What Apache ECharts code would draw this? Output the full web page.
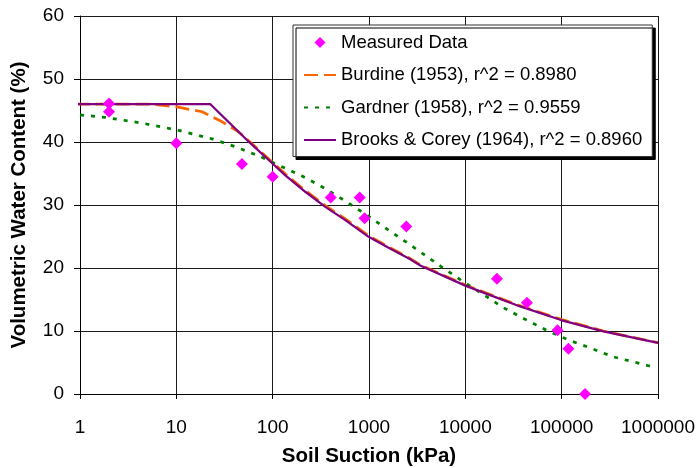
<!DOCTYPE html>
<html>
	<head>
		<meta charset="UTF-8">
		<title>Soil Water Characteristic Curve</title>
		<script type="text/javascript" src="https://cdn.jsdelivr.net/npm/echarts@6/dist/echarts.min.js"></script>
		<style>
			html, body { margin: 0; padding: 0; background: #fff; }
			#swcc { width: 699px; height: 468px; }
		</style>
	</head>
	<body>
		<div id="swcc"></div>
		<script>
		// measured points (suction kPa / water content %)
		var measuredSuction = [2, 2, 10, 48, 100, 400, 800, 900, 2440, 21300, 43600, 90600, 117600, 175000];
		var measuredWater = [46.1, 44.8, 39.8, 36.5, 34.5, 31.2, 31.2, 27.9, 26.6, 18.3, 14.5, 10.1, 7.2, 0];

		// fitted curves
		var burdineSuction = [0.9, 5.6, 9.8, 18.5, 29.9, 44.4, 66, 107, 135.5, 218, 352, 568, 991, 1597, 2680, 3405, 9980, 16700, 37100, 100500, 271000, 1000000];
		var burdineWater = [46, 46, 45.6, 44.8, 43.2, 41.6, 39.25, 36.35, 34.9, 32.3, 29.9, 27.8, 25.1, 23.35, 21.5, 20.5, 17.3, 16.0, 14.0, 11.8, 10.0, 8.15];

		var gardnerSuction = [1, 1.84, 4.4, 10.2, 23.5, 41, 71.6, 120, 202, 338, 545, 866, 1418, 2286, 3680, 5940, 9560, 15400, 24900, 41800, 69000, 117600, 156000, 344000, 815000, 900000];
		var gardnerWater = [44.3, 43.9, 43.0, 41.9, 40.5, 39.25, 37.8, 36.2, 34.6, 32.75, 30.8, 28.8, 26.55, 24.4, 22.2, 19.95, 17.8, 15.8, 13.7, 11.85, 10.15, 8.57, 7.9, 5.9, 4.45, 4.3];

		var brooksSuction = [0.9, 22.6, 56.4, 94.6, 135.5, 218, 352, 568, 991, 1597, 2680, 3405, 9980, 16700, 37100, 100500, 271000, 1000000];
		var brooksWater = [46, 46, 40.05, 36.9, 34.7, 32.1, 29.7, 27.6, 24.95, 23.2, 21.4, 20.4, 17.2, 15.9, 13.9, 11.7, 9.95, 8.1];

		var seriesNames = ['Measured Data', 'Burdine (1953), r^2 = 0.8980', 'Gardner (1958), r^2 = 0.9559', 'Brooks & Corey (1964), r^2 = 0.8960'];

		function pairs(xs, ys) {
			var out = [];
			for (var i = 0; i < xs.length; i++) {
				out.push([xs[i], ys[i]]);
			}
			return out;
		}

		var fontName = '"Liberation Sans", Arial, sans-serif';
		// hide the little circle echarts puts in the middle of line icons
		var noDot = { color: 'rgba(0,0,0,0)', borderWidth: 0, opacity: 0 };

		var chart = echarts.init(document.getElementById('swcc'));

		var option = {
			animation: false,
			backgroundColor: '#fff',
			textStyle: { fontFamily: fontName },
			grid: { left: 80, right: 41, top: 16, bottom: 74, containLabel: false, outerBoundsMode: 'none' },
			legend: {
				data: [
					{ name: seriesNames[0], icon: 'path://M5,0L10,5L5,10L0,5Z' },
					{ name: seriesNames[1], itemStyle: noDot },
					{ name: seriesNames[2], itemStyle: noDot },
					{ name: seriesNames[3], itemStyle: noDot }
				],
				orient: 'vertical',
				left: 293,
				top: 25,
				padding: [8, 10, 7, 10],
				itemGap: 13.5,
				itemWidth: 32,
				itemHeight: 11,
				symbolKeepAspect: true,
				backgroundColor: '#fff',
				borderColor: '#333',
				borderWidth: 1,
				shadowColor: '#000',
				shadowBlur: 0,
				shadowOffsetX: 3,
				shadowOffsetY: 3,
				textStyle: { fontSize: 18.5, color: '#000', fontFamily: fontName }
			},
			xAxis: {
				type: 'log',
				logBase: 10,
				min: 1,
				max: 1000000,
				name: 'Soil Suction (kPa)',
				nameLocation: 'middle',
				nameGap: 52,
				nameTextStyle: { fontSize: 20.5, fontWeight: 'bold', color: '#000', fontFamily: fontName },
				axisLine: { lineStyle: { color: '#000', width: 1 } },
				axisTick: { show: true, length: 5, lineStyle: { color: '#000' } },
				axisLabel: {
					fontSize: 19,
					color: '#000',
					margin: 24,
					formatter: function (v) { return String(Math.round(v)); }
				},
				splitLine: { show: true, lineStyle: { color: '#1a1a1a', width: 1 } }
			},
			yAxis: {
				type: 'value',
				min: 0,
				max: 60,
				interval: 10,
				name: 'Volumetric Water Content (%)',
				nameLocation: 'middle',
				nameGap: 50,
				nameTextStyle: { fontSize: 20.5, fontWeight: 'bold', color: '#000', fontFamily: fontName },
				axisLine: { show: true, lineStyle: { color: '#000', width: 1 } },
				axisTick: { show: true, length: 6, lineStyle: { color: '#000' } },
				axisLabel: { fontSize: 19, color: '#000', margin: 16 },
				splitLine: { show: true, lineStyle: { color: '#1a1a1a', width: 1 } }
			},
			series: [
				{
					name: seriesNames[1],
					type: 'line',
					symbol: 'none',
					clip: false,
					data: pairs(burdineSuction, burdineWater),
					itemStyle: { color: '#FF6600' },
					lineStyle: { color: '#FF6600', width: 2.75, type: [14, 6] },
					z: 3
				},
				{
					name: seriesNames[2],
					type: 'line',
					symbol: 'none',
					clip: false,
					data: pairs(gardnerSuction, gardnerWater),
					itemStyle: { color: '#008000' },
					lineStyle: { color: '#008000', width: 2.75, type: [4, 7] },
					z: 3
				},
				{
					name: seriesNames[3],
					type: 'line',
					symbol: 'none',
					clip: false,
					data: pairs(brooksSuction, brooksWater),
					itemStyle: { color: '#800080' },
					lineStyle: { color: '#800080', width: 2.25 },
					z: 4
				},
				{
					name: seriesNames[0],
					type: 'scatter',
					symbol: 'diamond',
					symbolSize: 12,
					clip: false,
					data: pairs(measuredSuction, measuredWater),
					itemStyle: { color: '#FF00FF', opacity: 1 },
					z: 5
				}
			]
		};

		chart.setOption(option);
		</script>
	</body>
</html>
